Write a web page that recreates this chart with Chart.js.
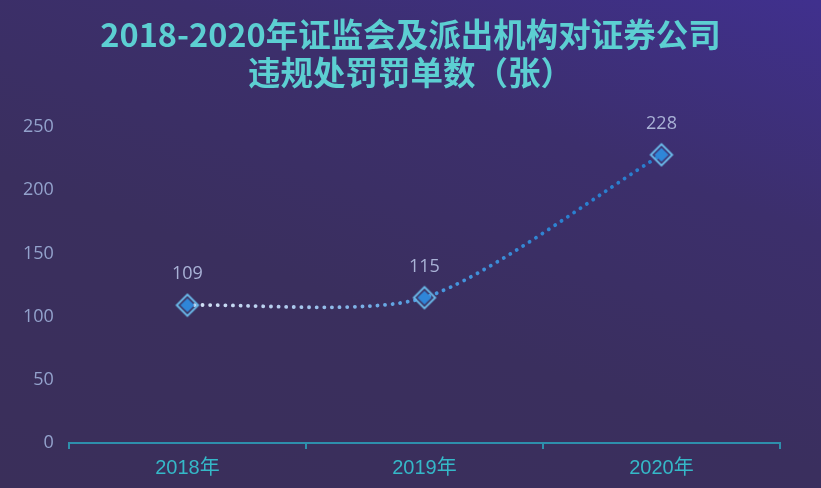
<!DOCTYPE html>
<html>
<head>
<meta charset="utf-8">
<script src="https://cdn.jsdelivr.net/npm/chart.js@4"></script>
<style>
  html, body { margin: 0; padding: 0; }
  body {
    width: 821px; height: 488px; overflow: hidden;
    background: linear-gradient(200deg, #40308e 0%, #3c2f6c 30%, #3a2f5e 60%, #3a2f5a 100%);
  }
  #wrap { position: relative; width: 821px; height: 488px; }
</style>
</head>
<body>
<div id="wrap"><canvas id="chartLine"></canvas></div>
<script>
const years = ["2018年", "2019年", "2020年"];
const penalties = [109, 115, 228];
const titleLines = ["2018-2020年证监会及派出机构对证券公司", "违规处罚罚单数（张）"];

// diamond marker: light outline, blue core
function diamondMarker() {
    const c = document.createElement("canvas");
    c.width = 26; c.height = 26;
    const g = c.getContext("2d");
    g.translate(13, 13);
    g.rotate(Math.PI / 4);
    g.strokeStyle = "#6ab8e8";
    g.lineWidth = 2;
    g.strokeRect(-7.5, -7.5, 15, 15);
    g.fillStyle = "#2f86d8";
    g.fillRect(-5, -5, 10, 10);
    return c;
}

// title centred on the whole canvas
const pageTitle = {
    id: "pageTitle",
    afterDraw(chart) {
        const ctx = chart.ctx;
        ctx.save();
        ctx.font = "bold 32.5px 'Noto Sans CJK SC'";
        ctx.fillStyle = "#5ccfd2";
        ctx.textAlign = "center";
        ctx.textBaseline = "middle";
        titleLines.forEach(function (line, i) {
            ctx.fillText(line, chart.width / 2, 35 + i * 37.5);
        });
        ctx.restore();
    },
};

// value labels above points
const valueLabels = {
    id: "valueLabels",
    afterDatasetsDraw(chart) {
        const ctx = chart.ctx;
        const meta = chart.getDatasetMeta(0);
        ctx.save();
        ctx.font = "18px 'Open Sans', 'Noto Sans', sans-serif";
        ctx.fillStyle = "#a9b2d6";
        ctx.textAlign = "center";
        ctx.textBaseline = "alphabetic";
        meta.data.forEach(function (pt, i) {
            ctx.fillText(penalties[i], pt.x, pt.y - 26);
        });
        ctx.restore();
    },
};

const dataLineChart = {
    labels: years,
    datasets: [
        {
            data: penalties,
            borderColor: function (context) {
                const area = context.chart.chartArea;
                if (!area) return "#ffffff";
                const grad = context.chart.ctx.createLinearGradient(area.left, 0, area.right, 0);
                grad.addColorStop(0, "#ffffff");
                grad.addColorStop(0.3, "#b4cdee");
                grad.addColorStop(0.5, "#4c9ae0");
                grad.addColorStop(0.7, "#2a80d0");
                grad.addColorStop(1, "#2a7acc");
                return grad;
            },
            borderWidth: 3.8,
            borderDash: [0.1, 7.5],
            borderCapStyle: "round",
            tension: 0.25,
            pointStyle: diamondMarker(),
            pointRadius: 13,
            pointHoverRadius: 13,
        },
    ],
};

const configLineChart = {
    type: "line",
    data: dataLineChart,
    options: {
        responsive: false,
        animation: false,
        layout: { padding: { left: 16, right: 41, top: 127, bottom: 1 } },
        plugins: {
            legend: { display: false },
            tooltip: { enabled: false },
            title: { display: false },
        },
        scales: {
            x: {
                offset: true,
                grid: {
                    display: true,
                    offset: true,
                    drawOnChartArea: false,
                    drawTicks: true,
                    tickLength: 6,
                    color: "#2e8fac",
                    lineWidth: 2,
                },
                border: { color: "#2e8fac", width: 2 },
                ticks: {
                    color: "#35b8c8",
                    font: { family: "'Liberation Sans', 'Noto Sans CJK SC', sans-serif", size: 20 },
                    padding: 7,
                },
            },
            y: {
                min: 0,
                max: 250,
                ticks: {
                    stepSize: 50,
                    color: "#93a2cc",
                    font: { family: "'Open Sans', sans-serif", size: 18 },
                    padding: 7,
                },
                grid: { display: false },
                border: { display: false },
            },
        },
    },
    plugins: [valueLabels, pageTitle],
};

const canvas = document.getElementById("chartLine");
canvas.width = 821;
canvas.height = 488;
let chartLine = new Chart(canvas, configLineChart);
</script>
</body>
</html>
